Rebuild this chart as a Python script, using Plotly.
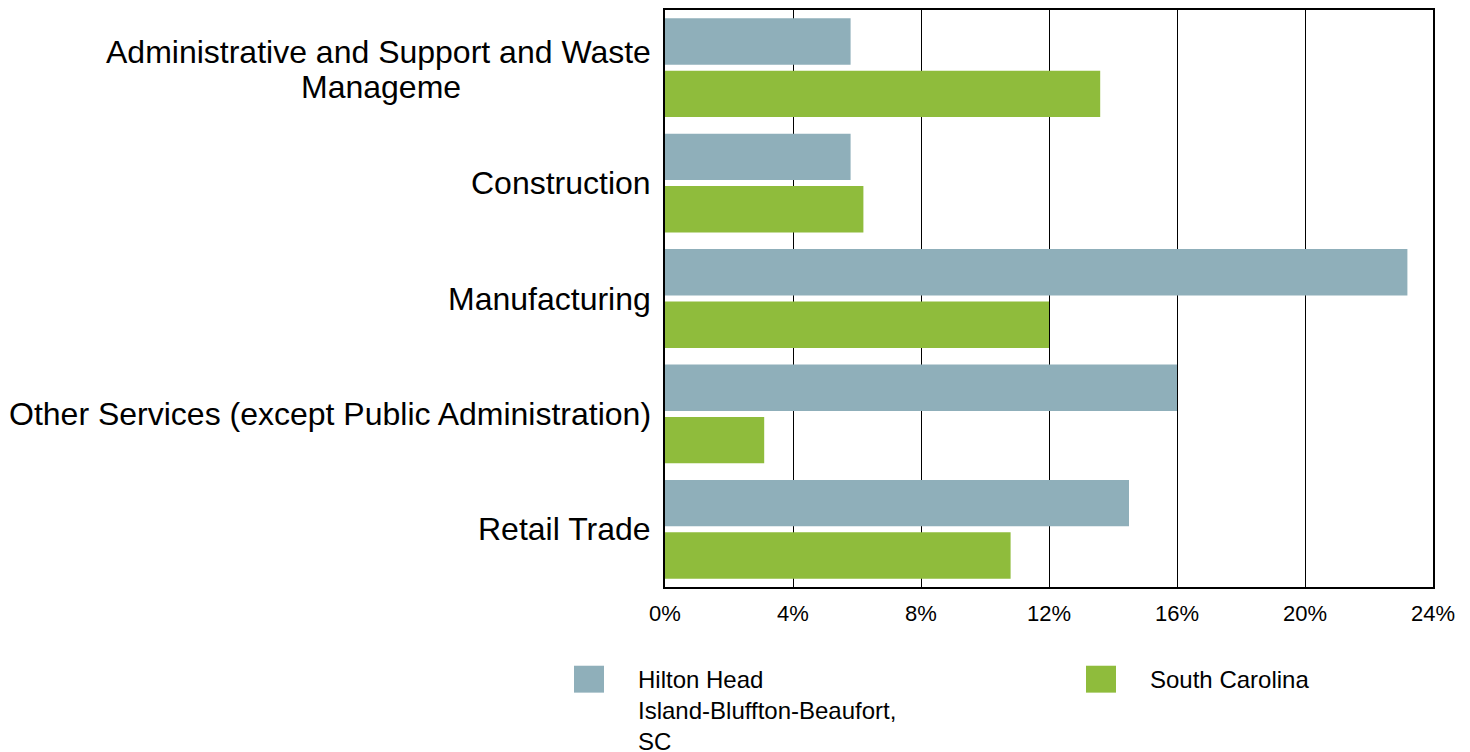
import plotly.graph_objects as go

categories = [
    "Administrative and Support and Waste Manageme",
    "Construction",
    "Manufacturing",
    "Other Services (except Public Administration)",
    "Retail Trade",
]
category_lines = [
    ["Administrative and Support and Waste", "Manageme"],
    ["Construction"],
    ["Manufacturing"],
    ["Other Services (except Public Administration)"],
    ["Retail Trade"],
]
hilton_head = [5.8, 5.8, 23.2, 16.0, 14.5]
south_carolina = [13.6, 6.2, 12.0, 3.1, 10.8]
series_names = ["Hilton Head<br>Island-Bluffton-Beaufort,<br>SC", "South Carolina"]
x_ticks = [0, 4, 8, 12, 16, 20, 24]
x_tick_labels = ["0%", "4%", "8%", "12%", "16%", "20%", "24%"]

C_HH = "#8FAFBA"
C_SC = "#8FBC3C"
FONT = "Liberation Sans, Arial, sans-serif"

W, H = 1470, 752
OFF = 8  # page body margin
L, R, T, B = 657, 45, 0, 173
pw, ph = W - L - R, H - T - B

def px(x):  # page pixel -> paper
    return (x - OFF - L) / pw

def py(y):
    return (H - B - (y - OFF)) / ph

fig = go.Figure()
ypos = list(range(len(categories)))
fig.add_trace(go.Bar(y=ypos, x=hilton_head, orientation="h",
                     marker=dict(color=C_HH, line=dict(width=0)), name="Hilton Head", showlegend=False))
fig.add_trace(go.Bar(y=ypos, x=south_carolina, orientation="h",
                     marker=dict(color=C_SC, line=dict(width=0)), name="South Carolina", showlegend=False))

annotations = []
CAT_SIZE = 32
for i, lines in enumerate(category_lines):
    if len(lines) == 1:
        annotations.append(dict(x=px(653), xref="paper", y=i, yref="y", text=lines[0], showarrow=False,
                                xanchor="right", yanchor="middle",
                                font=dict(family=FONT, size=CAT_SIZE, color="#000")))
    else:
        annotations.append(dict(x=px(653), xref="paper", y=i, yref="y", text=lines[0], showarrow=False,
                                xanchor="right", yanchor="middle", yshift=16,
                                font=dict(family=FONT, size=CAT_SIZE, color="#000")))
        annotations.append(dict(x=px(381), xref="paper", y=i, yref="y", text=lines[1], showarrow=False,
                                xanchor="center", yanchor="middle", yshift=-19,
                                font=dict(family=FONT, size=CAT_SIZE, color="#000")))

shapes = []
legend_items = [(574, 636, C_HH, series_names[0]), (1086, 1148, C_SC, series_names[1])]
for sx, tx, col, name in legend_items:
    shapes.append(dict(type="rect", xref="paper", yref="paper",
                       x0=px(sx), x1=px(sx + 30), y0=py(666), y1=py(693),
                       fillcolor=col, line=dict(width=0)))
    annotations.append(dict(x=px(tx), xref="paper", y=py(664), yref="paper", text=name,
                            showarrow=False, xanchor="left", yanchor="top", align="left",
                            font=dict(family=FONT, size=24, color="#000")))

fig.update_layout(
    width=W, height=H,
    margin=dict(l=L, r=R, t=T, b=B, pad=0),
    paper_bgcolor="white", plot_bgcolor="white",
    barmode="group", bargap=0.092, bargroupgap=0.114,
    showlegend=False,
    font=dict(family=FONT, color="#000"),
    xaxis=dict(range=[0, 24], tickvals=x_ticks, ticktext=x_tick_labels,
               showgrid=True, gridcolor="#000", gridwidth=1,
               showline=True, linecolor="#000", linewidth=2, mirror=True,
               zeroline=False, ticks="", ticklabelstandoff=6,
               tickfont=dict(family=FONT, size=22, color="#000"), fixedrange=True),
    yaxis=dict(range=[len(categories) - 0.5, -0.5], showticklabels=False,
               showgrid=False, showline=True, linecolor="#000", linewidth=2, mirror=True,
               zeroline=False, ticks="", fixedrange=True),
    annotations=annotations,
    shapes=shapes,
)

fig.write_html("out.html")
